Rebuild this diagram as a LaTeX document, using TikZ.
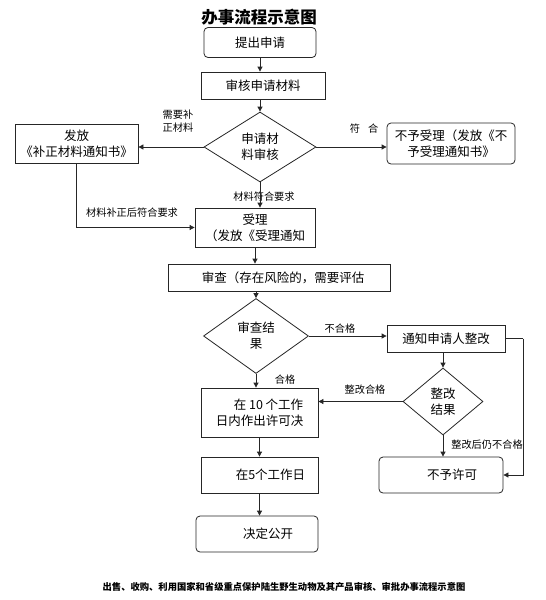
\documentclass[tikz,border=0pt]{standalone}
\usepackage{fontspec}
\setmainfont{Noto Sans CJK SC}
\usetikzlibrary{shapes.geometric,arrows.meta}
\begin{document}
\begin{tikzpicture}[x=1pt,y=-1pt,
  every node/.style={inner sep=0pt},
  box/.style={draw=black!85,line width=0.8pt,rectangle,font=\fontsize{12.5}{16}\selectfont,align=center},
  rbox/.style={box,rounded corners=4pt},
  dia/.style={draw=black!85,line width=0.8pt,diamond,font=\fontsize{12.5}{16}\selectfont,align=center},
  lbl/.style={font=\fontsize{10.2}{13.5}\selectfont,align=center},
  arr/.style={draw=black!85,line width=0.8pt,-{Triangle[length=5pt,width=5pt]}},
  ln/.style={draw=black!85,line width=0.8pt}]
\useasboundingbox (0,0) rectangle (546,600);
\node (title) at (259,17) {\fontsize{16.5}{18}\selectfont\bfseries 办事流程示意图};
\node[rbox,minimum width=112pt,minimum height=30pt] (n1) at (260,42.5) {提出申请};
\node[box,minimum width=124pt,minimum height=27pt] (n2) at (263,85.5) {审核申请材料};
\node[dia,minimum width=112pt,minimum height=70pt] (d1) at (260,147) {申请材\\料审核};
\node[box,minimum width=123pt,minimum height=39pt] (bl) at (76.5,143.5) {发放\\《补正材料通知书》};
\node[rbox,minimum width=128pt,minimum height=41pt] (br) at (451,143.5) {不予受理（发放《不\\予受理通知书》};
\node[box,minimum width=120pt,minimum height=39pt] (n3) at (255,227.5) {受理\\（发放《受理通知};
\node[box,minimum width=222pt,minimum height=27pt] (n4) at (279,277.5) {\hspace*{8pt}审查（存在风险的，需要评估};
\node[dia,minimum width=105pt,minimum height=75pt] (d2) at (256,336) {审查结\\果};
\node[box,minimum width=118pt,minimum height=27pt] (n5) at (446,338.5) {通知申请人整改};
\node[dia,minimum width=80pt,minimum height=67pt] (d3) at (443,401.5) {整改\\结果};
\node[box,minimum width=117pt,minimum height=49pt,align=right] (n6) at (259.5,412.5) {在 10 个工作\\日内作出许可决};
\node[rbox,minimum width=124pt,minimum height=36pt] (n7) at (441,475) {\hspace*{22pt}不予许可};
\node[box,minimum width=117pt,minimum height=36pt] (n8) at (259.5,475) {\hspace*{22pt}在5个工作日};
\node[rbox,minimum width=122pt,minimum height=36pt] (n9) at (257,534) {\hspace*{22pt}决定公开};
\coordinate (c1) at (523,338.5);
% labels
\node[lbl] (l1) at (178,121) {需要补\\正材料};
\node[lbl] (l2) at (364,129) {符\hspace{8pt}合};
\node[lbl] (l3) at (264,197) {材料符合要求};
\node[lbl] (l4) at (132,213) {材料补正后符合要求};
\node[lbl] (l5) at (340,329) {不合格};
\node[lbl] (l6) at (285,380) {合格};
\node[lbl] (l7) at (365,390) {整改合格};
\node[lbl] (l8) at (487,445) {整改后仍不合格};
\node (foot) at (284,587) {\fontsize{9.3}{11}\selectfont\bfseries 出售、收购、利用国家和省级重点保护陆生野生动物及其产品审核、审批办事流程示意图};
% connectors
\draw[arr] (n1.south) -- (n1.south |- n2.north);
\draw[arr] (d1.north |- n2.south) -- (d1.north);
\draw[arr] (d1.west) -- (d1.west -| bl.east);
\draw[arr] (d1.east) -- (d1.east -| br.west);
\draw[arr] (d1.south) -- (d1.south |- n3.north);
\draw[arr] (bl.south) |- (n3.west);
\draw[arr] (n3.south) -- (n3.south |- n4.north);
\draw[arr] (d2.north |- n4.south) -- (d2.north);
\draw[arr] (d2.east) -- (d2.east -| n5.west);
\draw[arr] (d3.north |- n5.south) -- (d3.north);
\draw[arr] (d2.south) -- (d2.south |- n6.north);
\draw[arr] (d3.west) -- (d3.west -| n6.east);
\draw[arr] (d3.south) -- (d3.south |- n7.north);
\draw[ln] (n5.east) -- (c1);
\draw[arr] (c1) |- (n7.east);
\draw[arr] (n6.south) -- (n8.north);
\draw[arr] (n8.south) -- (n8.south |- n9.north);
\end{tikzpicture}
\end{document}
